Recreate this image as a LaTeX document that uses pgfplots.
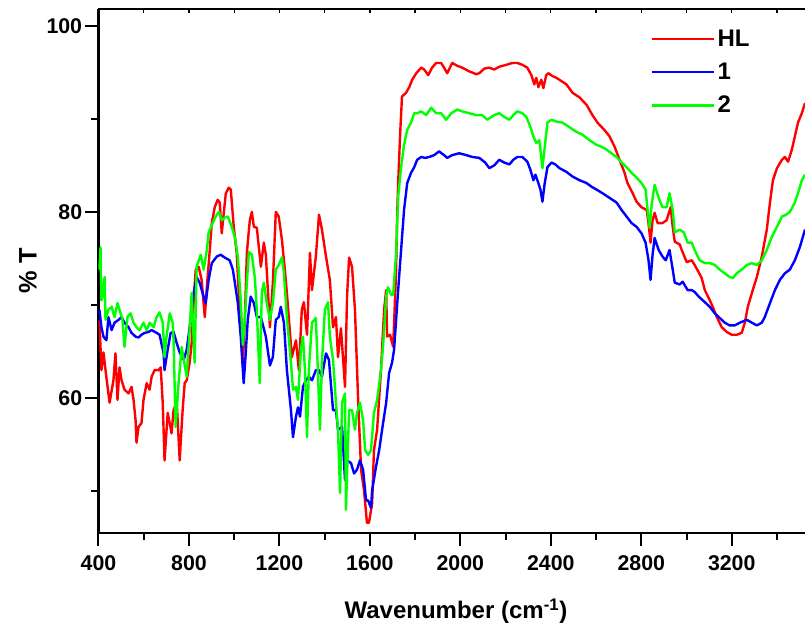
\documentclass[border=0pt]{standalone}
\usepackage{fontspec}
\setmainfont{Liberation Sans}
\usepackage{pgfplots}
\pgfplotsset{compat=1.18}

\begin{document}
\begin{tikzpicture}
% picture frame: 805 x 630 px at 0.75pt per px, axis box lower left at origin
\useasboundingbox (-73.875pt,-72.75pt) rectangle (529.875pt,399.75pt);
\begin{axis}[
  scale only axis,
  width=529.875pt, height=393pt,
  xmin=400, xmax=3524, ymin=45.5, ymax=101.8,
  axis x line*=box, axis y line*=left,
  axis line style={-, line width=1.6pt},
  xtick pos=left, ytick pos=left,
  xtick={400,800,...,3200},
  minor xtick={600,1000,...,3400},
  ytick={60,80,100},
  minor ytick={50,70,90},
  tick align=outside,
  major tick length=9.75pt,
  minor tick length=5.25pt,
  every tick/.append style={black, line width=1.5pt},
  every minor tick/.append style={black, line width=1.5pt},
  tick label style={font=\bfseries\fontsize{16}{18}\selectfont},
  xticklabel style={yshift=-4pt},
  yticklabel style={xshift=1pt},
  /pgf/number format/1000 sep={},
  /pgf/number format/assume math mode=true,
  xlabel={Wavenumber (cm\textsuperscript{-1})},
  xlabel style={font=\bfseries\fontsize{18}{20}\selectfont, at={(axis description cs:0.506,-0.149)}, anchor=center},
  ylabel={\% T},
  ylabel style={font=\bfseries\fontsize{19}{21}\selectfont, at={(axis description cs:-0.0998,0.5)}, anchor=center},
  legend style={draw=none, fill=none, at={(0.782,0.966)}, anchor=north west,
    font=\bfseries\fontsize{18}{20}\selectfont, row sep=7pt, inner sep=0pt,
    nodes={inner sep=2pt}},
  legend cell align=left,
  legend image code/.code={\draw[#1] (0pt,0pt) -- (46pt,0pt);},
  every axis plot/.append style={line width=1.8pt, line join=round},
]
\addplot[red] coordinates {
(404,68.4) (413,63.0) (422,64.9) (435,62.2) (449,59.5) (466,61.9) (475,64.8) (484,59.8)
(493,63.3) (502,61.9) (515,60.9) (533,60.5) (546,61.2) (555,59.8) (564,57.6) (568,55.2)
(577,56.9) (590,57.3) (599,59.8) (613,61.6) (626,60.9) (635,62.3) (648,63.0) (666,63.0)
(675,63.3) (684,59.5) (692,53.3) (706,58.4) (715,57.3) (723,56.2) (732,58.7) (746,59.5)
(759,53.3) (772,58.7) (781,61.6) (790,61.9) (803,63.8) (812,65.9) (821,70.5) (830,73.8)
(843,74.1) (856,72.7) (870,68.7) (879,71.9) (892,75.9) (901,78.8) (914,80.5) (927,81.3)
(936,81.0) (945,77.7) (954,79.9) (963,82.0) (976,82.6) (985,82.4) (998,78.4) (1011,75.6)
(1025,69.1) (1034,65.5) (1038,63.5) (1047,68.4) (1056,75.6) (1069,79.1) (1078,80.0) (1087,78.4)
(1100,78.3) (1118,74.1) (1131,76.7) (1140,75.4) (1158,67.6) (1171,72.4) (1184,80.0) (1197,79.5)
(1211,77.0) (1224,73.8) (1233,71.3) (1255,64.4) (1273,66.2) (1286,63.0) (1299,69.5) (1308,70.3)
(1322,66.8) (1335,75.6) (1344,71.6) (1361,75.2) (1375,79.7) (1388,78.1) (1406,75.2) (1423,72.7)
(1437,67.6) (1450,68.7) (1459,64.4) (1472,67.5) (1490,61.2) (1499,70.9) (1508,75.1) (1521,74.1)
(1534,69.5) (1548,59.8) (1561,52.3) (1574,50.1) (1587,46.6) (1596,46.6) (1610,48.7) (1618,54.4)
(1632,56.6) (1649,63.0) (1663,69.5) (1672,71.6) (1676,66.6) (1689,66.8) (1703,65.5) (1716,73.8)
(1720,79.1) (1725,83.1) (1734,88.5) (1742,92.4) (1760,92.8) (1774,93.4) (1787,94.2) (1805,94.9)
(1827,95.5) (1840,95.3) (1858,94.7) (1875,95.5) (1893,96.0) (1915,96.0) (1928,95.5) (1942,94.9)
(1964,96.0) (1986,95.7) (2008,95.5) (2039,95.1) (2070,94.8) (2084,94.9) (2106,95.4) (2128,95.5)
(2150,95.3) (2172,95.6) (2203,95.8) (2230,96.0) (2252,96.0) (2274,95.8) (2296,95.5) (2314,94.7)
(2327,93.7) (2336,94.4) (2345,93.4) (2358,94.2) (2367,93.3) (2380,94.7) (2389,94.9) (2407,94.6)
(2425,94.4) (2438,94.2) (2469,93.7) (2496,92.8) (2527,92.3) (2558,91.5) (2584,90.4) (2606,89.6)
(2637,88.8) (2660,88.1) (2682,87.0) (2704,85.6) (2726,84.2) (2739,83.1) (2762,82.0) (2779,81.1)
(2801,80.5) (2824,80.2) (2832,78.8) (2841,76.7) (2850,79.1) (2859,79.9) (2872,78.8) (2894,78.8)
(2912,79.1) (2930,80.5) (2939,78.4) (2948,76.8) (2970,76.5) (2979,75.9) (3001,74.6) (3023,74.8)
(3036,74.3) (3054,73.5) (3067,72.9) (3081,71.6) (3103,70.5) (3116,69.8) (3134,68.7) (3156,67.6)
(3178,67.1) (3200,66.8) (3222,66.8) (3244,67.0) (3258,68.1) (3271,69.8) (3293,71.6) (3311,73.0)
(3333,75.2) (3355,78.1) (3369,81.0) (3382,83.4) (3400,84.7) (3422,85.6) (3435,85.9) (3449,85.4)
(3466,86.7) (3479,88.1) (3493,89.6) (3510,90.6) (3524,91.7)
};
\addlegendentry{HL}
\addplot[blue] coordinates {
(404,69.5) (413,67.6) (422,66.6) (435,66.2) (444,68.7) (458,67.3) (471,68.1) (489,68.4)
(502,68.7) (515,68.1) (533,67.6) (546,67.0) (564,66.6) (577,66.5) (590,66.8) (604,67.0)
(621,67.1) (635,67.3) (657,67.0) (670,66.8) (688,64.8) (692,63.0) (706,65.2) (719,67.0)
(732,67.1) (746,65.9) (759,64.9) (777,64.1) (790,65.2) (803,67.6) (821,71.3) (834,73.0)
(847,72.4) (865,70.9) (874,70.2) (887,72.7) (901,74.5) (923,75.2) (940,75.4) (958,75.1)
(980,74.8) (994,73.8) (1003,72.4) (1016,70.2) (1029,66.6) (1042,61.6) (1051,64.8) (1060,68.4)
(1073,70.9) (1087,70.2) (1100,68.7) (1118,68.7) (1140,66.6) (1158,63.5) (1171,64.4) (1184,68.4)
(1197,68.7) (1206,69.8) (1220,68.1) (1233,63.0) (1251,58.7) (1260,55.8) (1273,58.0) (1282,59.0)
(1291,58.0) (1304,61.2) (1317,61.9) (1330,62.3) (1344,61.9) (1361,63.0) (1375,63.0) (1388,62.3)
(1406,64.8) (1419,64.1) (1437,58.7) (1450,58.7) (1459,56.6) (1477,56.9) (1490,51.2) (1499,53.3)
(1517,53.0) (1530,51.9) (1543,52.3) (1556,53.3) (1570,52.3) (1583,49.0) (1592,49.0) (1605,48.2)
(1610,50.1) (1627,52.6) (1641,54.4) (1654,56.6) (1672,59.5) (1685,62.7) (1698,63.8) (1707,65.2)
(1716,68.4) (1725,71.6) (1738,75.9) (1751,80.2) (1765,83.1) (1782,84.2) (1796,84.8) (1809,85.6)
(1827,85.9) (1844,85.8) (1862,85.9) (1884,86.1) (1906,86.5) (1928,86.1) (1942,85.8) (1964,86.1)
(1995,86.3) (2026,86.1) (2053,85.9) (2084,85.8) (2110,85.3) (2128,84.7) (2150,85.0) (2172,85.6)
(2194,85.3) (2217,85.1) (2234,85.6) (2252,85.9) (2274,85.9) (2296,85.4) (2310,84.5) (2323,83.4)
(2332,84.0) (2345,83.1) (2354,82.4) (2363,81.1) (2372,82.9) (2385,84.8) (2403,85.3) (2420,85.1)
(2438,84.7) (2469,84.3) (2496,83.8) (2527,83.4) (2558,83.1) (2580,82.7) (2602,82.4) (2629,82.0)
(2660,81.5) (2691,81.0) (2713,80.2) (2735,79.5) (2757,78.8) (2779,78.4) (2801,77.7) (2819,76.7)
(2832,74.8) (2841,72.7) (2850,75.4) (2859,77.2) (2877,75.9) (2894,75.2) (2908,74.8) (2925,75.9)
(2939,73.8) (2948,72.4) (2970,72.2) (2983,72.5) (3005,71.6) (3023,71.6) (3036,71.4) (3054,70.9)
(3072,70.5) (3103,69.8) (3125,69.1) (3147,68.6) (3169,68.1) (3191,67.8) (3213,67.8) (3236,68.1)
(3267,68.4) (3289,68.1) (3311,67.8) (3333,68.1) (3346,68.7) (3369,70.2) (3391,71.6) (3413,72.7)
(3435,73.4) (3457,73.8) (3479,74.8) (3501,76.2) (3524,78.1)
};
\addlegendentry{1}
\addplot[green] coordinates {
(404,73.8) (409,76.2) (413,70.5) (418,70.9) (427,73.0) (431,68.4) (444,69.5) (458,69.8)
(471,68.7) (484,70.2) (493,69.5) (506,68.4) (515,65.5) (528,68.7) (542,69.1) (555,68.1)
(568,67.6) (582,67.3) (599,68.1) (613,67.3) (626,68.1) (644,67.6) (657,68.7) (670,69.2)
(684,68.1) (692,64.4) (701,66.6) (715,69.1) (728,68.1) (732,66.2) (741,56.9) (754,61.6)
(768,65.5) (777,64.1) (790,62.3) (803,67.3) (812,71.3) (825,63.8) (834,74.1) (852,75.4)
(865,73.8) (879,75.9) (887,77.8) (905,78.8) (918,79.5) (932,80.0) (945,79.1) (958,79.4)
(972,79.5) (989,78.4) (1003,77.3) (1016,75.2) (1029,70.5) (1038,65.7) (1047,68.4) (1056,72.4)
(1065,75.7) (1078,75.4) (1091,73.0) (1100,69.5) (1113,61.6) (1122,71.3) (1131,72.4) (1144,70.2)
(1158,68.4) (1171,70.2) (1184,73.8) (1197,74.3) (1211,75.1) (1220,73.4) (1233,68.7) (1251,63.8)
(1260,60.9) (1273,61.2) (1282,59.8) (1295,65.2) (1304,66.6) (1313,63.0) (1322,55.8) (1330,63.0)
(1344,68.1) (1361,68.6) (1370,63.0) (1379,56.6) (1388,63.8) (1401,69.5) (1415,70.3) (1423,66.6)
(1437,64.1) (1450,59.5) (1459,56.6) (1468,49.8) (1477,59.5) (1490,60.5) (1494,48.0) (1508,58.7)
(1521,58.7) (1534,56.6) (1543,58.4) (1556,59.5) (1570,57.6) (1579,54.4) (1592,53.9) (1605,54.4)
(1618,58.4) (1632,59.8) (1649,63.0) (1658,65.5) (1672,70.9) (1680,71.9) (1694,71.1) (1703,71.1)
(1716,75.6) (1725,81.6) (1738,84.8) (1751,87.2) (1765,88.8) (1782,89.6) (1796,90.6) (1809,90.6)
(1827,90.8) (1849,90.4) (1871,91.2) (1893,90.6) (1915,90.6) (1937,89.9) (1960,90.6) (1986,91.0)
(2008,90.8) (2039,90.6) (2070,90.4) (2097,90.4) (2119,89.9) (2150,90.4) (2172,90.6) (2194,90.2)
(2217,89.9) (2234,90.4) (2252,90.8) (2274,90.6) (2292,90.2) (2310,89.1) (2323,88.1) (2336,87.4)
(2349,87.7) (2354,86.7) (2363,84.7) (2372,86.7) (2385,89.6) (2403,89.9) (2425,89.7) (2451,89.6)
(2482,89.1) (2513,88.6) (2540,88.3) (2571,87.7) (2602,87.2) (2624,87.0) (2646,86.7) (2668,86.3)
(2691,85.9) (2713,85.3) (2735,84.8) (2757,84.2) (2779,83.7) (2801,83.1) (2819,82.4) (2828,80.2)
(2837,78.3) (2846,80.8) (2859,82.9) (2877,81.5) (2894,80.5) (2912,80.5) (2925,82.0) (2939,80.2)
(2948,77.8) (2970,78.1) (2988,77.8) (3005,76.7) (3023,76.7) (3036,75.9) (3058,74.8) (3081,74.5)
(3103,74.5) (3125,74.3) (3147,73.8) (3169,73.4) (3191,73.0) (3205,72.9) (3222,73.4) (3244,73.8)
(3267,74.3) (3289,74.5) (3311,74.3) (3333,74.8) (3355,75.9) (3377,77.3) (3400,78.4) (3422,79.5)
(3440,79.7) (3457,80.0) (3479,81.0) (3493,82.0) (3510,83.4) (3524,84.0)
};
\addlegendentry{2}
\end{axis}
% small inward ticks on the top axis line
\begin{axis}[
  scale only axis,
  width=529.875pt, height=393pt,
  xmin=400, xmax=3524, ymin=45.5, ymax=101.8,
  axis x line*=top, hide y axis,
  axis line style={draw=none},
  xtick={400,600,...,3400}, xticklabels={},
  tick align=inside,
  major tick length=3pt,
  every tick/.append style={black, line width=1pt},
]
\end{axis}
\end{tikzpicture}
\end{document}
